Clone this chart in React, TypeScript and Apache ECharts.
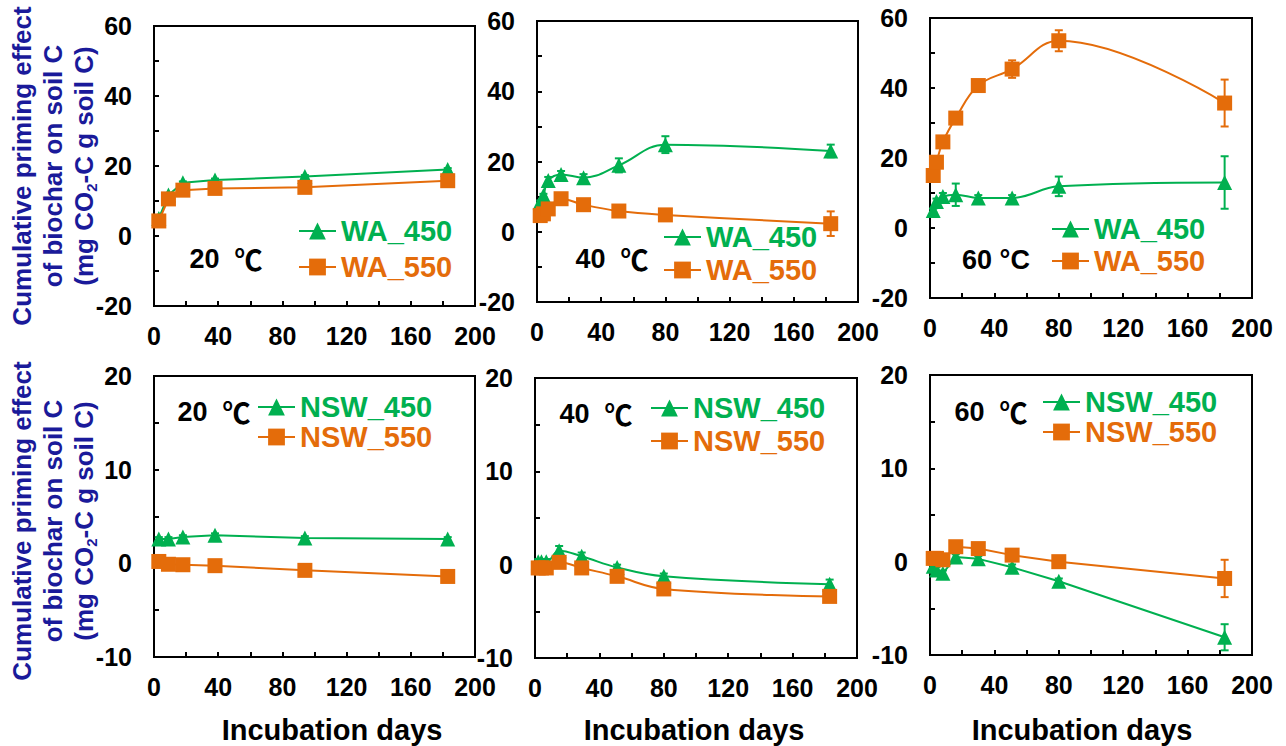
import React, { useEffect, useRef } from "react";
import * as echarts from "echarts";

// ---------- data ----------
const DAYS_20 = [3, 9, 18, 38, 94, 183];
const DAYS_40 = [2, 4, 7, 15, 29, 51, 80, 183];
const DAYS_60 = [2, 4, 8, 16, 30, 51, 80, 183];

const WA_450_20 = [5, 11.7, 15.2, 16, 17, 19];
const WA_450_20_ERR = [0.4, 0.4, 0.4, 0.4, 0.4, 0.4];
const WA_550_20 = [4.3, 10.6, 13.1, 13.6, 13.9, 15.8];
const WA_550_20_ERR = [0.4, 0.4, 0.4, 0.4, 0.4, 0.4];

const WA_450_40 = [8.4, 10.3, 14.6, 16.3, 15.4, 18.9, 24.8, 23];
const WA_450_40_ERR = [0.5, 0.5, 1, 1, 1, 2, 2.4, 1.8];
const WA_550_40 = [4.6, 5.1, 6.5, 9.4, 7.7, 5.9, 4.8, 2.3];
const WA_550_40_ERR = [0.5, 0.5, 0.5, 0.8, 0.8, 0.5, 0.5, 3.5];

const WA_450_60 = [5, 7.6, 9, 9.5, 8.6, 8.6, 11.9, 13];
const WA_450_60_ERR = [0.5, 0.8, 1, 3.2, 0.8, 0.8, 2.8, 7.5];
const WA_550_60 = [15, 18.8, 24.6, 31.4, 40.7, 45.4, 53.5, 35.7];
const WA_550_60_ERR = [1, 1, 1, 1, 1, 2.5, 3, 6.7];

const NSW_450_20 = [2.6, 2.6, 2.8, 3.0, 2.7, 2.6];
const NSW_450_20_ERR = [0.2, 0.2, 0.2, 0.2, 0.2, 0.2];
const NSW_550_20 = [0.2, -0.1, -0.15, -0.25, -0.75, -1.4];
const NSW_550_20_ERR = [0.2, 0.2, 0.2, 0.2, 0.2, 0.2];

const NSW_450_40 = [0.3, 0.3, 0.3, 1.5, 0.9, -0.3, -1.25, -2.1];
const NSW_450_40_ERR = [0.3, 0.3, 0.3, 0.5, 0.4, 0.3, 0.3, 0.5];
const NSW_550_40 = [-0.35, -0.35, -0.35, 0.25, -0.35, -1.25, -2.6, -3.4];
const NSW_550_40_ERR = [0.3, 0.3, 0.3, 0.3, 0.3, 0.3, 0.3, 0.6];

const NSW_450_60 = [-0.5, -0.9, -1.25, 0.5, 0.3, -0.6, -2.1, -8.1];
const NSW_450_60_ERR = [0.3, 0.3, 0.3, 0.3, 0.3, 0.3, 0.3, 1.4];
const NSW_550_60 = [0.35, 0.35, 0.2, 1.6, 1.4, 0.7, 0, -1.8];
const NSW_550_60_ERR = [0.3, 0.3, 0.3, 0.3, 0.3, 0.3, 0.3, 2];

const X_TICKS = { min: 0, max: 200, interval: 20, labelEvery: 40 };
const Y_TOP = { min: -20, max: 60, interval: 10, labelEvery: 20 };
const Y_BOTTOM = { min: -10, max: 20, interval: 5, labelEvery: 10 };

const TEMPS = [
  "{n|20  }{c|\u2103}",
  "{n|40  }{c|\u2103}",
  "{n|60 \u00b0C}",
  "{n|20  }{c|\u2103}",
  "{n|40  }{c|\u2103}",
  "{n|60  }{c|\u2103}",
];
const X_TITLE = "Incubation days";

// ---------- style ----------
const GREEN = "#00b050";
const ORANGE = "#e46c0a";
const BLUE = "#1a1a9a";
const FONT = "'Liberation Sans', Arial, 'DejaVu Sans', 'Noto Sans CJK SC', sans-serif";
const CJK = "'Noto Sans CJK SC', 'Liberation Sans', sans-serif";

const GRIDS = [
  { left: 154, top: 26, width: 321, height: 280 },
  { left: 537, top: 21, width: 321, height: 281 },
  { left: 930, top: 18, width: 322, height: 280 },
  { left: 154, top: 376, width: 321, height: 281 },
  { left: 535, top: 378, width: 322, height: 280 },
  { left: 930, top: 375, width: 322, height: 280 },
];

const PANELS = [
  { days: DAYS_20, a: WA_450_20, ae: WA_450_20_ERR, b: WA_550_20, be: WA_550_20_ERR, names: ["WA_450", "WA_550"], smooth: false, y: Y_TOP },
  { days: DAYS_40, a: WA_450_40, ae: WA_450_40_ERR, b: WA_550_40, be: WA_550_40_ERR, names: ["WA_450", "WA_550"], smooth: true, y: Y_TOP },
  { days: DAYS_60, a: WA_450_60, ae: WA_450_60_ERR, b: WA_550_60, be: WA_550_60_ERR, names: ["WA_450", "WA_550"], smooth: true, y: Y_TOP },
  { days: DAYS_20, a: NSW_450_20, ae: NSW_450_20_ERR, b: NSW_550_20, be: NSW_550_20_ERR, names: ["NSW_450", "NSW_550"], smooth: false, y: Y_BOTTOM },
  { days: DAYS_40, a: NSW_450_40, ae: NSW_450_40_ERR, b: NSW_550_40, be: NSW_550_40_ERR, names: ["NSW_450", "NSW_550"], smooth: true, y: Y_BOTTOM },
  { days: DAYS_60, a: NSW_450_60, ae: NSW_450_60_ERR, b: NSW_550_60, be: NSW_550_60_ERR, names: ["NSW_450", "NSW_550"], smooth: false, y: Y_BOTTOM },
];

// legend positions: [iconLeft, row1Center, row2Center]
const LEGEND_POS = [
  [298, 231, 267],
  [663, 237, 270],
  [1051, 229, 261],
  [257, 407, 437],
  [650, 408, 441],
  [1042, 402, 432],
];
// temperature label centers
const TEMP_POS = [
  [226, 259],
  [612, 259],
  [996, 260],
  [214, 412],
  [596, 414],
  [991, 412],
];
const XTITLE_POS = [332, 694, 1082];

function errorSeries(name: string, days: number[], v: number[], e: number[], idx: number, color: string) {
  return {
    type: "custom",
    name: name + "_err",
    xAxisIndex: idx,
    yAxisIndex: idx,
    z: 1,
    silent: true,
    encode: { x: 0, y: 1 },
    data: days.map((d, k) => [d, v[k], e[k]]),
    renderItem: (params: any, api: any) => {
      const x = api.value(0);
      const y = api.value(1);
      const er = api.value(2);
      const top = api.coord([x, y + er]);
      const bot = api.coord([x, y - er]);
      const hw = 4;
      const st = { stroke: color, lineWidth: 2 };
      return {
        type: "group",
        children: [
          { type: "line", shape: { x1: top[0], y1: top[1], x2: bot[0], y2: bot[1] }, style: st },
          { type: "line", shape: { x1: top[0] - hw, y1: top[1], x2: top[0] + hw, y2: top[1] }, style: st },
          { type: "line", shape: { x1: bot[0] - hw, y1: bot[1], x2: bot[0] + hw, y2: bot[1] }, style: st },
        ],
      };
    },
  };
}

function lineSeries(name: string, days: number[], v: number[], idx: number, color: string, symbol: string, smooth: boolean) {
  return {
    type: "line",
    name,
    xAxisIndex: idx,
    yAxisIndex: idx,
    z: 3,
    data: days.map((d, k) => [d, v[k]]),
    symbol,
    symbolSize: 15,
    smooth: smooth ? 0.4 : false,
    lineStyle: { color, width: 2 },
    itemStyle: { color },
  };
}

export default function App() {
  const ref = useRef<HTMLDivElement>(null);
  useEffect(() => {
    if (!ref.current) return;
    const chart = echarts.init(ref.current, undefined, { renderer: "svg" });

    const grid = GRIDS.map((g) => ({ ...g, show: true, borderColor: "#000", borderWidth: 2, backgroundColor: "transparent" }));

    const xAxis = GRIDS.map((_, i) => ({
      type: "value",
      gridIndex: i,
      min: X_TICKS.min,
      max: X_TICKS.max,
      interval: X_TICKS.interval,
      splitLine: { show: false },
      axisLine: { show: true, onZero: false, lineStyle: { color: "#000", width: 2 } },
      axisTick: { show: true, inside: true, length: 5, lineStyle: { color: "#000", width: 2 } },
      axisLabel: {
        margin: 17,
        color: "#000",
        fontSize: 25,
        fontWeight: "bold",
        fontFamily: FONT,
        formatter: (v: number) => (v % X_TICKS.labelEvery === 0 ? String(v) : ""),
      },
    }));

    const yAxis = PANELS.map((p, i) => ({
      type: "value",
      gridIndex: i,
      min: p.y.min,
      max: p.y.max,
      interval: p.y.interval,
      splitLine: { show: false },
      axisLine: { show: true, onZero: false, lineStyle: { color: "#000", width: 2 } },
      axisTick: { show: true, inside: true, length: 5, lineStyle: { color: "#000", width: 2 } },
      axisLabel: {
        margin: 22,
        color: "#000",
        fontSize: 25,
        fontWeight: "bold",
        fontFamily: FONT,
        formatter: (v: number) => (v % p.y.labelEvery === 0 ? String(v) : ""),
      },
    }));

    const series: any[] = [];
    PANELS.forEach((p, i) => {
      series.push(errorSeries(p.names[0], p.days, p.a, p.ae, i, GREEN));
      series.push(errorSeries(p.names[1], p.days, p.b, p.be, i, ORANGE));
      series.push(lineSeries(p.names[0], p.days, p.a, i, GREEN, "triangle", p.smooth));
      series.push(lineSeries(p.names[1], p.days, p.b, i, ORANGE, "rect", p.smooth));
    });

    const legend: any[] = [];
    PANELS.forEach((p, i) => {
      const [lx, r1, r2] = LEGEND_POS[i];
      [0, 1].forEach((k) => {
        legend.push({
          data: [{ name: p.names[k], textStyle: { color: k === 0 ? GREEN : ORANGE } }],
          left: lx,
          top: (k === 0 ? r1 : r2) - 15,
          padding: 0,
          itemWidth: 37,
          itemHeight: 21,
          selectedMode: false,
          textStyle: { fontSize: 29, fontWeight: "bold", fontFamily: FONT, lineHeight: 30 },
        });
      });
    });

    const graphic: any[] = [];
    TEMP_POS.forEach(([x, y], i) => {
      graphic.push({
        type: "text",
        x,
        y,
        style: {
          text: TEMPS[i],
          align: "center",
          verticalAlign: "middle",
          fill: "#000",
          fontSize: 27,
          fontWeight: "bold",
          fontFamily: FONT,
          rich: {
            n: { fontSize: 27, fontWeight: "bold", fontFamily: FONT, fill: "#000" },
            c: { fontSize: 28, fontWeight: "bold", fontFamily: CJK, fill: "#000" },
          },
        },
      });
    });
    XTITLE_POS.forEach((x) => {
      graphic.push({
        type: "text",
        x,
        y: 730,
        style: {
          text: X_TITLE,
          align: "center",
          verticalAlign: "middle",
          fill: "#000",
          fontSize: 29,
          fontWeight: "bold",
          fontFamily: FONT,
        },
      });
    });
    [166, 521].forEach((cy) => {
      graphic.push({
        type: "text",
        x: 53,
        y: cy,
        rotation: Math.PI / 2,
        style: {
          text: "{a|Cumulative priming effect}\n{a|of biochar on soil C}\n{a|(mg CO}{s|2}{a|-C g soil C)}",
          align: "center",
          verticalAlign: "middle",
          fill: BLUE,
          fontSize: 26,
          fontWeight: "bold",
          fontFamily: FONT,
          rich: {
            a: { fontSize: 26, fontWeight: "bold", fontFamily: FONT, fill: BLUE, lineHeight: 31 },
            s: { fontSize: 15, fontWeight: "bold", fontFamily: FONT, fill: BLUE, lineHeight: 15, verticalAlign: "bottom" },
          },
        },
      });
    });

    chart.setOption({
      animation: false,
      backgroundColor: "#fff",
      grid,
      xAxis,
      yAxis,
      legend,
      series,
      graphic,
    });
    return () => chart.dispose();
  }, []);
  return <div ref={ref} style={{ position: "absolute", left: 0, top: 0, width: 1286, height: 746 }} />;
}
